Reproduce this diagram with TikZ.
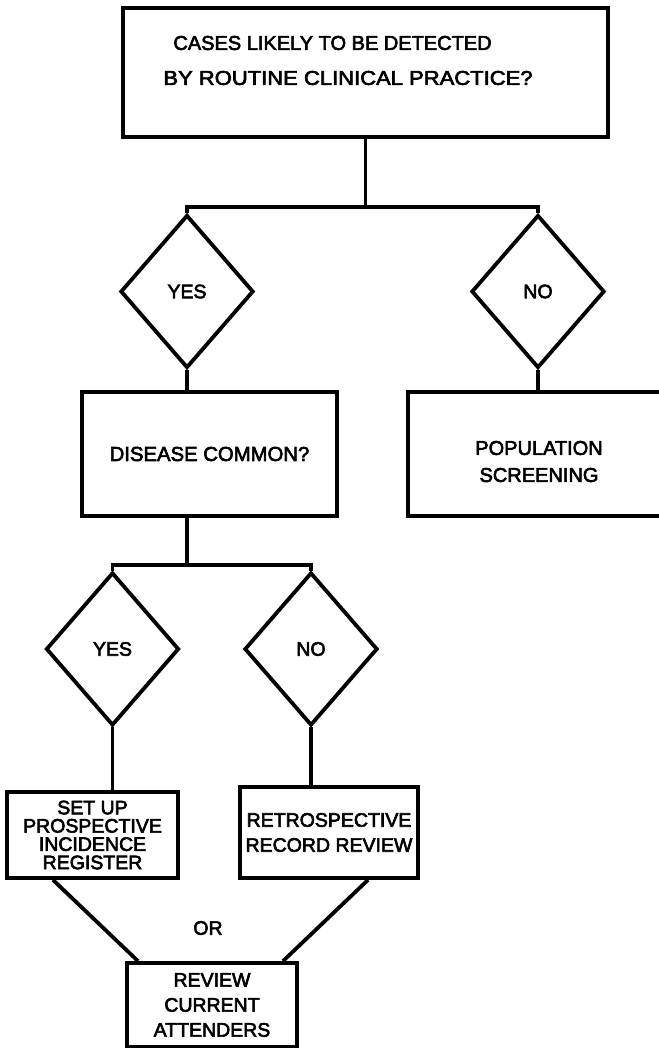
\documentclass[tikz,border=0pt]{standalone}
\usepackage{fontspec}
\setmainfont{Liberation Sans}
\usepackage{graphicx}
\usetikzlibrary{shapes.geometric,calc}
\begin{document}
\begin{tikzpicture}[x=1pt,y=-1pt,
  every node/.style={execute at begin node={\special{pdf:literal direct 2 Tr 0.6 w}},
                     execute at end node={\special{pdf:literal direct 0 Tr}}},
  ln/.style={line width=3.8pt},
  box/.style={draw, rectangle, line width=3.8pt, inner sep=0pt, align=center},
  dec/.style={draw, diamond, line width=3.8pt, inner sep=0pt,
    minimum width=133pt, minimum height=153pt,
    font=\fontsize{19.5}{22}\selectfont},
  txt/.style={inner sep=0pt, align=center}
]
\useasboundingbox (0,0) rectangle (658,1048);

% top question
\node[box, minimum width=485pt, minimum height=129pt] (q1) at (365.5,72.5) {};
\node[txt, align=left, font=\fontsize{20}{35}\selectfont] (q1t) at (348,60.5)
  {\hspace*{10pt}CASES LIKELY TO BE DETECTED\\
   \scalebox{1.1}[1]{BY ROUTINE CLINICAL PRACTICE?}};

% first split
\coordinate (j1) at (365.5,207);
\node[dec] (y1) at (187,291.5) {YES};
\node[dec] (n1) at (538,291.5) {NO};

\node[box, minimum width=255pt, minimum height=124pt,
      font=\fontsize{20.3}{27}\selectfont] (d) at (209.5,454) {DISEASE COMMON?};
\node[box, minimum width=262pt, minimum height=124pt,
      font=\fontsize{20}{27}\selectfont] (p) at (539,454)
  {\rule{0pt}{29pt}POPULATION\\SCREENING};

% second split
\coordinate (j2) at (187,565);
\node[dec] (y2) at (112.5,649) {YES};
\node[dec] (n2) at (311,649) {NO};

\node[box, minimum width=171pt, minimum height=86pt,
      font=\fontsize{19.5}{18.3}\selectfont] (r1) at (92.5,835)
  {SET UP\\PROSPECTIVE\\INCIDENCE\\REGISTER};
\node[box, minimum width=178pt, minimum height=91pt,
      font=\fontsize{19.5}{25}\selectfont] (r2) at (329,832.5)
  {RETROSPECTIVE\\RECORD REVIEW};
\node[box, minimum width=170pt, minimum height=84pt,
      font=\fontsize{19.5}{25}\selectfont] (r3) at (212,1005)
  {REVIEW\\CURRENT\\ATTENDERS};
\node[txt, font=\fontsize{19.5}{22}\selectfont] (or) at (208,928) {OR};

% connectors
\draw[ln] (q1.south) -- (j1);
\draw[ln] (y1.north) -- (y1.north |- j1) -- (n1.north |- j1) -- (n1.north);
\draw[ln] (y1.south) -- (y1.south |- d.north);
\draw[ln] (n1.south) -- (n1.south |- p.north);
\draw[ln] (y1.south |- d.south) -- (j2);
\draw[ln] (y2.north) -- (y2.north |- j2) -- (n2.north |- j2) -- (n2.north);
\draw[ln] (y2.south) -- (y2.south |- r1.north);
\draw[ln] (n2.south) -- (n2.south |- r2.north);
\draw[ln] ($(r1.south)+(-39.5,0)$) -- ($(r3.north)+(-74,0)$);
\draw[ln] ($(r2.south)+(39,0)$) -- ($(r3.north)+(71,0)$);
\end{tikzpicture}
\end{document}
